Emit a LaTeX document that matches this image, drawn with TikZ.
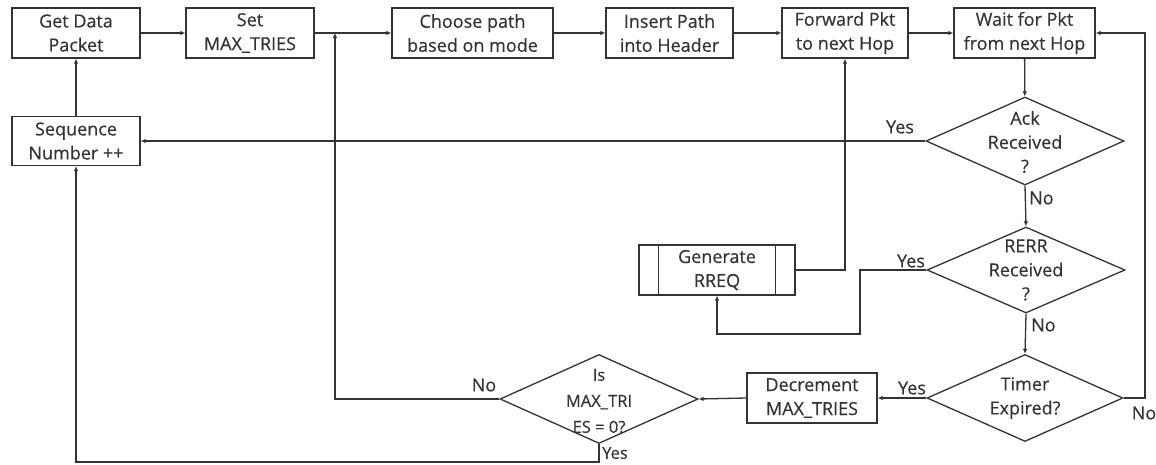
\documentclass[tikz,border=0pt]{standalone}
\usepackage{fontspec}
\setmainfont{Open Sans}[FakeBold=0.4]
\usetikzlibrary{shapes.geometric,arrows.meta}
\definecolor{ink}{HTML}{333333}
\begin{document}
\begin{tikzpicture}[x=1pt,y=-1pt,
  every node/.style={font=\fontsize{18}{24}\selectfont, text=ink},
  proc/.style={draw=ink, line width=1.3pt, rectangle, minimum height=50pt, inner sep=0pt, align=center},
  dec/.style={draw=ink, line width=1.3pt, diamond, inner sep=0pt, minimum width=198pt, minimum height=88pt},
  dtext/.style={align=center, inner sep=0pt},
  lbl/.style={inner sep=0pt},
  conn/.style={draw=ink, line width=1.3pt, -{Latex[length=5pt,width=4.5pt]}},
  line/.style={draw=ink, line width=1.3pt}
]
\useasboundingbox (0,0) rectangle (1156,464);
\node[proc, minimum width=128pt] (get) at (76,33) {Get Data\\Packet};
\node[proc, minimum width=128pt] (set) at (250,33) {Set\\MAX\_TRIES};
\node[proc, minimum width=161pt] (choose) at (472.5,33) {Choose path\\based on mode};
\node[proc, minimum width=127pt] (insert) at (669.5,33) {Insert Path\\into Header};
\node[proc, minimum width=126pt] (fwd) at (845,33) {Forward Pkt\\to next Hop};
\node[proc, minimum width=141pt] (wait) at (1024.5,33) {Wait for Pkt\\from next Hop};
\node[proc, minimum width=128pt, minimum height=49pt] (seq) at (76,141) {Sequence\\Number ++};

\node[dec] (ack) at (1025,141) {};
\node[dtext] (acktxt) at (1025,142) {Ack\\Received\\?};
\node[dec, minimum height=86pt] (rerr) at (1026,270) {};
\node[dtext] (rerrtxt) at (1026,270) {RERR\\Received\\?};
\node[dec, minimum width=196pt, minimum height=87pt] (timer) at (1025,398) {};
\node[dtext] (timertxt) at (1025,398) {Timer\\Expired?};
\node[proc, minimum width=130pt] (decr) at (812,398) {Decrement\\MAX\_TRIES};
\node[dec, minimum height=89pt] (is) at (599,399) {};
\node[dtext, font=\fontsize{16.5}{26}\selectfont] (istxt) at (599,401) {Is\\MAX\_TRI\\ES = 0?};

\node[proc, minimum width=156pt] (rreq) at (717,270) {Generate\\RREQ};
\draw[line] ([xshift=20pt]rreq.north west) -- ([xshift=20pt]rreq.south west);
\draw[line] ([xshift=-20pt]rreq.north east) -- ([xshift=-20pt]rreq.south east);

\coordinate (j1) at (335,33);
\coordinate (b1) at (76,462);
\coordinate (r1) at (1145,33);
\coordinate (y1) at (860,270);
\coordinate (y2) at (717,334);

\draw[conn] (get) -- (set);
\draw[conn] (set) -- (choose);
\draw[conn] (choose) -- (insert);
\draw[conn] (insert) -- (fwd);
\draw[conn] (fwd) -- (wait);
\draw[conn] (seq) -- (get);
\draw[conn] (wait) -- (ack);
\draw[conn] (ack.west) -- (seq.east);
\draw[conn] (ack.south) -- (rerr.north);
\draw[conn] (rerr.south) -- (timer.north);
\draw[conn] (rerr.west) -- (y1) |- (y2) -- (rreq.south);
\draw[conn] (rreq.east) -| (fwd.south);
\draw[conn] (timer.west) -- (decr.east);
\draw[conn] (decr.west) -- (is.east);
\draw[conn] (is.west) -| (j1);
\draw[conn] (is.south) |- (b1) -- (seq.south);
\draw[conn] (timer.east) -| (r1) -- (wait.east);

\node[lbl] (l1) at (900,127) {Yes};
\node[lbl, anchor=west] (l2) at (1029,198) {No};
\node[lbl] (l3) at (911,261) {Yes};
\node[lbl, anchor=west] (l4) at (1031,325) {No};
\node[lbl] (l5) at (912,388) {Yes};
\node[lbl] (l6) at (1144,413) {No};
\node[lbl] (l7) at (484,385) {No};
\node[lbl, anchor=west, font=\fontsize{16.5}{24}\selectfont] (l8) at (602,453) {Yes};
\end{tikzpicture}
\end{document}
